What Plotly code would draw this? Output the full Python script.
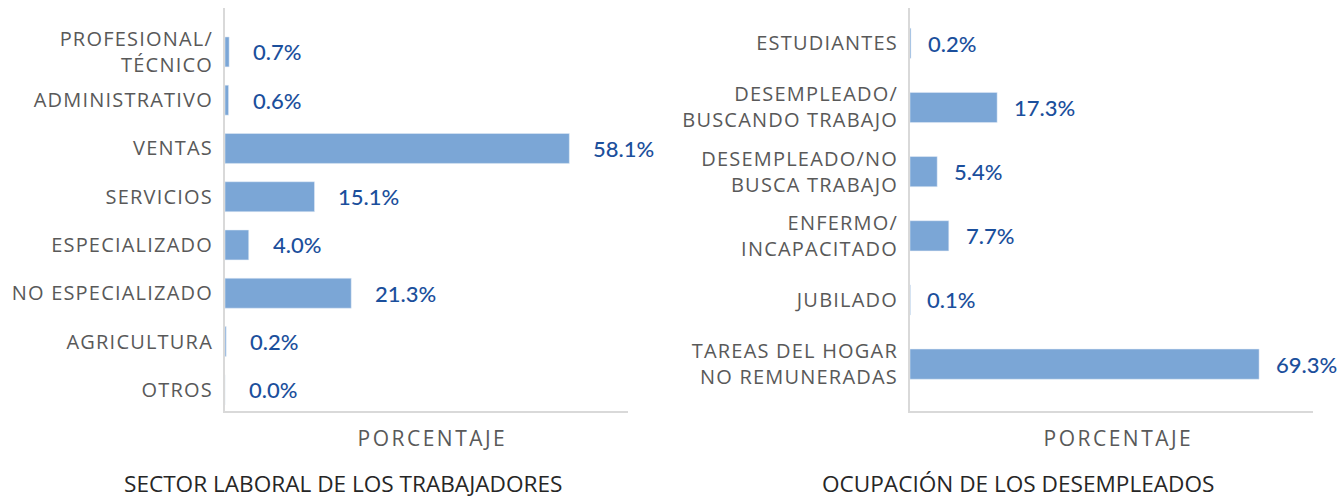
import plotly.graph_objects as go

# ---- data ----
sector_labels = ["PROFESIONAL/<br>TÉCNICO", "ADMINISTRATIVO", "VENTAS", "SERVICIOS",
                 "ESPECIALIZADO", "NO ESPECIALIZADO", "AGRICULTURA", "OTROS"]
sector_values = [0.7, 0.6, 58.1, 15.1, 4.0, 21.3, 0.2, 0.0]

ocup_labels = ["ESTUDIANTES", "DESEMPLEADO/<br>BUSCANDO TRABAJO", "DESEMPLEADO/NO<br>BUSCA TRABAJO",
               "ENFERMO/<br>INCAPACITADO", "JUBILADO", "TAREAS DEL HOGAR<br>NO REMUNERADAS"]
ocup_values = [0.2, 17.3, 5.4, 7.7, 0.1, 69.3]

axis_title = "PORCENTAJE"
title_left = "SECTOR LABORAL DE LOS TRABAJADORES"
title_right = "OCUPACIÓN DE LOS DESEMPLEADOS"

# ---- style ----
BAR = "#7BA6D6"
LBL = "#1B4F9C"
GREY = "#595959"
LINE = "#D9D9D9"
FONT = "Lato"
CATFONT = "Open Sans"

W, H = 1343, 500
xl = [225 / W, 628 / W]
xr = [910 / W, 1313 / W]
ydom = [(H - 411) / H, (H - 8) / H]

fig = go.Figure()
fig.add_trace(go.Bar(x=sector_values, y=sector_labels, orientation="h",
                     marker_color=BAR, width=0.62, xaxis="x", yaxis="y",
                     hoverinfo="x+y"))
fig.add_trace(go.Bar(x=ocup_values, y=ocup_labels, orientation="h",
                     marker_color=BAR, width=0.47, xaxis="x2", yaxis="y2",
                     hoverinfo="x+y"))

lblfont = dict(family=FONT, size=22, color=LBL, weight=500)
annotations = []
for lab, v in zip(sector_labels, sector_values):
    annotations.append(dict(x=v, y=lab, xref="x", yref="y", text=f"{v:.1f}%",
                            showarrow=False, xanchor="left", xshift=22, font=lblfont))
for lab, v in zip(ocup_labels, ocup_values):
    annotations.append(dict(x=v, y=lab, xref="x2", yref="y2", text=f"{v:.1f}%",
                            showarrow=False, xanchor="left", xshift=15, font=lblfont))

annotations += [
    dict(x=(xl[0] + xl[1]) / 2 + 6 / W, y=(H - 438) / H, xref="paper", yref="paper",
         text=axis_title, showarrow=False, xanchor="center", yanchor="middle",
         font=dict(family=CATFONT, size=21, color=GREY)),
    dict(x=(xr[0] + xr[1]) / 2 + 7 / W, y=(H - 438) / H, xref="paper", yref="paper",
         text=axis_title, showarrow=False, xanchor="center", yanchor="middle",
         font=dict(family=CATFONT, size=21, color=GREY)),
    dict(x=343 / W, y=(H - 483) / H, xref="paper", yref="paper",
         text=title_left, showarrow=False, xanchor="center", yanchor="middle",
         font=dict(family=CATFONT, size=22.6, color="#262626")),
    dict(x=1018 / W, y=(H - 483) / H, xref="paper", yref="paper",
         text=title_right, showarrow=False, xanchor="center", yanchor="middle",
         font=dict(family=CATFONT, size=22.6, color="#262626")),
]

xaxis_common = dict(showgrid=False, zeroline=False, showticklabels=False,
                    showline=True, linecolor=LINE, linewidth=2, ticks="",
                    fixedrange=True)
yaxis_common = dict(showgrid=False, zeroline=False, showline=True, linecolor=LINE,
                    linewidth=2, ticks="", type="category", ticklabelstandoff=6,
                    tickfont=dict(family=CATFONT, size=20, color=GREY), automargin=False)

fig.update_layout(
    width=W, height=H,
    margin=dict(l=0, r=0, t=0, b=0),
    paper_bgcolor="white", plot_bgcolor="white",
    showlegend=False,
    xaxis=dict(domain=xl, range=[0, 68], anchor="y", **xaxis_common),
    yaxis=dict(domain=ydom, anchor="x", range=[7.44, -0.91],
               categoryorder="array", categoryarray=sector_labels, **yaxis_common),
    xaxis2=dict(domain=xr, range=[0, 80], anchor="y2", **xaxis_common),
    yaxis2=dict(domain=ydom, anchor="x2", range=[5.73, -0.55],
                categoryorder="array", categoryarray=ocup_labels, **yaxis_common),
    annotations=annotations,
)

post = """
document.body.style.margin='0';
document.body.style.overflow='hidden';
document.querySelectorAll('.ytick text, .y2tick text').forEach(function(t){t.style.letterSpacing='1.2px';});
document.querySelectorAll('g.annotation text').forEach(function(t){
  if (t.textContent === 'PORCENTAJE') { t.style.letterSpacing='2.5px'; }
});
"""

fig.write_html("out.html", config={"displayModeBar": False}, post_script=post)
